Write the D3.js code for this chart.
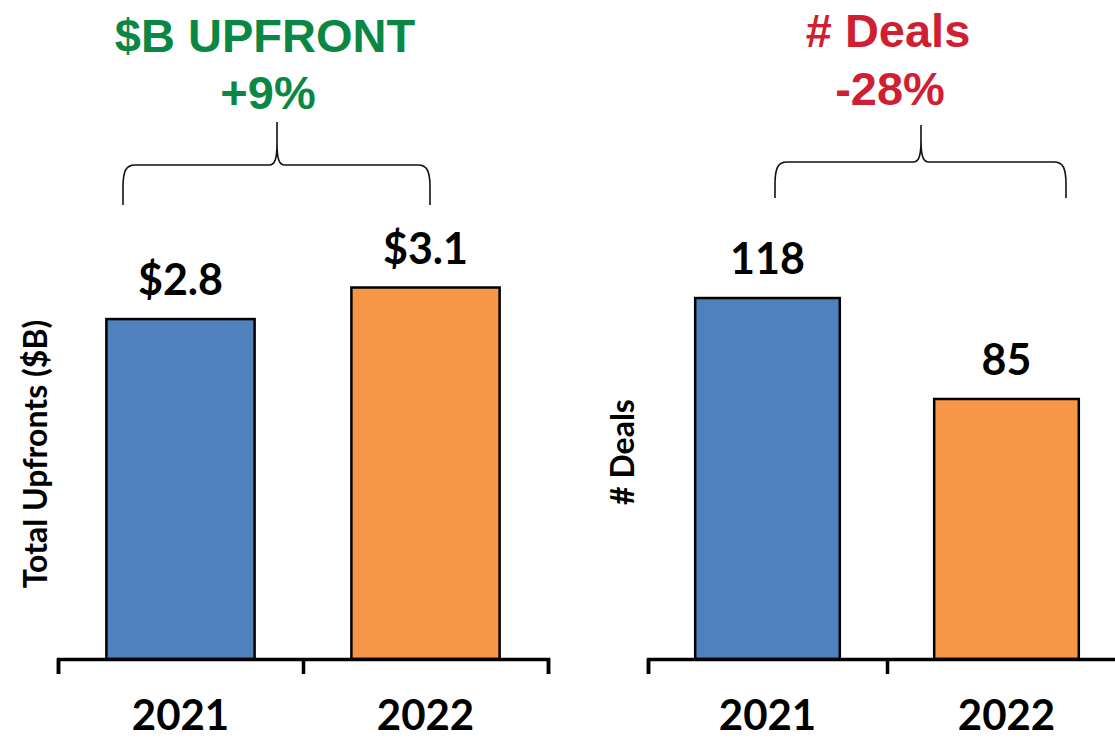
<!DOCTYPE html>
<html>
<head>
<meta charset="utf-8">
<script src="https://cdn.jsdelivr.net/npm/d3@7"></script>
<style>
  html, body { margin: 0; padding: 0; background: #fff; }
  svg { display: block; }
</style>
</head>
<body>
<svg id="chart" width="1115" height="740"></svg>
<script>
// ---- data ----
const categories = ["2021", "2022"];
const upfrontValues = [2.8, 3.06];      // $B
const dealValues = [118, 85];           // # deals
const upfrontTitle = ["$B UPFRONT", "+9%"];
const dealsTitle = ["# Deals", "-28%"];
const upfrontAxisTitle = "Total Upfronts ($B)";
const dealsAxisTitle = "# Deals";
const barColors = ["#4f81bd", "#f79646"];

const svg = d3.select("#chart");
const labelFont = "Lato, 'Open Sans', sans-serif";
const titleFont = "'Liberation Sans', Arial, sans-serif";

function panel(cfg) {
  const g = svg.append("g");
  const x = d3.scaleBand().domain(categories).range([cfg.x0, cfg.x0 + cfg.band * categories.length]).padding(0);
  const y = d3.scaleLinear().domain([0, cfg.ymax]).range([cfg.base, cfg.base - cfg.ymax * cfg.ppu]);
  const bw = x.bandwidth() * 0.605;

  // bars
  g.selectAll("rect.bar").data(cfg.values).join("rect")
    .attr("class", "bar")
    .attr("x", (d, i) => x(categories[i]) + (x.bandwidth() - bw) / 2)
    .attr("y", d => y(d))
    .attr("width", bw)
    .attr("height", d => y(0) - y(d))
    .attr("fill", (d, i) => barColors[i])
    .attr("stroke", "#000")
    .attr("stroke-width", 2.5);

  // value labels
  g.selectAll("text.val").data(cfg.values).join("text")
    .attr("class", "val")
    .attr("x", (d, i) => x(categories[i]) + x.bandwidth() / 2)
    .attr("y", d => y(d) - 24)
    .attr("text-anchor", "middle")
    .attr("font-family", labelFont)
    .attr("font-weight", 700)
    .attr("font-size", 43)
    .attr("fill", "#000")
    .text(cfg.fmt);

  // axis with boundary ticks
  const bnd = d3.scaleLinear().domain([0, categories.length]).range(x.range());
  const ax = g.append("g").attr("transform", `translate(0,${cfg.base})`)
    .call(d3.axisBottom(bnd).tickValues(d3.range(categories.length + 1)).tickSize(15).tickSizeOuter(15).tickFormat(""));
  ax.selectAll("path, line").attr("stroke", "#000").attr("stroke-width", 3.5);

  // category labels
  const lab = g.append("g").attr("transform", `translate(0,${cfg.base})`)
    .call(d3.axisBottom(x).tickSize(0).tickPadding(0));
  lab.select(".domain").remove();
  lab.selectAll("text")
    .attr("y", 71).attr("dy", 0)
    .attr("font-family", labelFont)
    .attr("font-weight", 700)
    .attr("font-size", 42)
    .attr("fill", "#000");

  // y axis title
  g.append("text")
    .attr("transform", `translate(${cfg.ytx},${cfg.yty}) rotate(-90)`)
    .attr("text-anchor", "middle")
    .attr("font-family", labelFont)
    .attr("font-weight", 700)
    .attr("font-size", 32)
    .attr("fill", "#000")
    .text(cfg.axisTitle);

  // header
  cfg.title.forEach((t, i) => {
    g.append("text")
      .attr("x", cfg.titleX[i]).attr("y", cfg.titleY[i])
      .attr("text-anchor", "middle")
      .attr("font-family", titleFont)
      .attr("font-weight", 700)
      .attr("font-size", 47)
      .attr("fill", cfg.titleColor)
      .text(t);
  });

  // brace
  const b = cfg.brace;
  const p = d3.path();
  p.moveTo(b.x0, b.yb);
  p.lineTo(b.x0, b.yl + 22);
  p.bezierCurveTo(b.x0, b.yl + 6, b.x0 + 3, b.yl, b.x0 + 12, b.yl);
  p.lineTo(b.xm - 8, b.yl);
  p.bezierCurveTo(b.xm - 2, b.yl, b.xm, b.yl - 6, b.xm, b.yl - 22);
  p.lineTo(b.xm, b.yt);
  p.moveTo(b.xm, b.yl - 22);
  p.bezierCurveTo(b.xm, b.yl - 6, b.xm + 2, b.yl, b.xm + 8, b.yl);
  p.lineTo(b.x1 - 12, b.yl);
  p.bezierCurveTo(b.x1 - 3, b.yl, b.x1, b.yl + 6, b.x1, b.yl + 22);
  p.lineTo(b.x1, b.yb);
  g.append("path").attr("d", p.toString())
    .attr("fill", "none").attr("stroke", "#111").attr("stroke-width", 1.6);
}

panel({
  values: upfrontValues,
  fmt: d => "$" + d3.format(".1f")(d),
  x0: 58, band: 245, base: 659, ymax: 4, ppu: 121.4,
  axisTitle: upfrontAxisTitle, ytx: 47, yty: 454,
  title: upfrontTitle, titleX: [265, 268], titleY: [52, 109], titleColor: "#0a8843",
  brace: { x0: 123, x1: 430, xm: 277, yb: 205, yl: 165, yt: 122 }
});

panel({
  values: dealValues,
  fmt: d => d3.format("d")(d),
  x0: 648, band: 239, base: 659, ymax: 150, ppu: 3.059,
  axisTitle: dealsAxisTitle, ytx: 634, yty: 452,
  title: dealsTitle, titleX: [888, 890], titleY: [47, 105], titleColor: "#d01f32",
  brace: { x0: 775, x1: 1066, xm: 921, yb: 198, yl: 162, yt: 125 }
});
</script>
</body>
</html>
